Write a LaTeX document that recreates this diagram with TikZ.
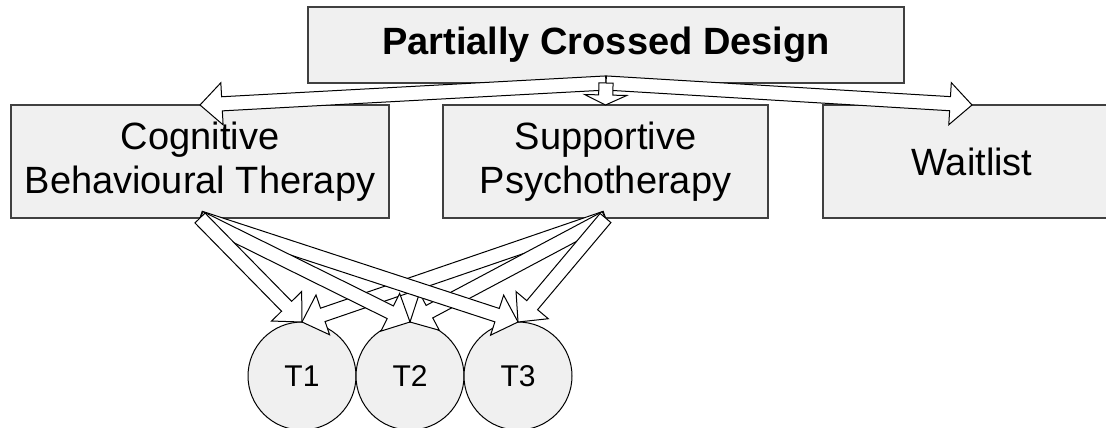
\documentclass[tikz,border=0pt]{standalone}
\usepackage{fontspec}
\setmainfont{Liberation Sans}
\usepackage{xcolor}
\usepackage{tikz}
\usetikzlibrary{positioning,calc}

\definecolor{boxgray}{HTML}{F0F0F0}
\newcommand{\shaftw}{5.3pt}
\newcommand{\headw}{15.8pt}

\begin{document}
\begin{tikzpicture}[
  x=0.75pt, y=-0.75pt,
  every node/.style={font=\fontsize{28.5}{33}\selectfont},
  group/.style ={draw=black!75, line width=1pt, fill=boxgray, inner sep=0pt,
                 outer sep=0pt, minimum height=84.75pt, align=center},
  design/.style={group, font=\fontsize{28.5}{33}\selectfont\bfseries,
                 minimum width=447pt, minimum height=57pt},
  tpoint/.style={circle, draw=black, line width=0.75pt, fill=boxgray,
                 inner sep=0pt, outer sep=0pt, minimum size=81pt,
                 font=\fontsize{22.5}{26}\selectfont},
  hollow/.style={draw=black, fill=white, line width=0.75pt, line join=miter,
    to path={($(\tikztostart)!\shaftw!90:(\tikztotarget)$)
      -- ($(\tikztotarget)!#1!(\tikztostart)!\shaftw!90:(\tikztotarget)$)
      -- ($(\tikztotarget)!#1!(\tikztostart)!\headw!90:(\tikztotarget)$)
      -- (\tikztotarget)
      -- ($(\tikztotarget)!#1!(\tikztostart)!\headw!-90:(\tikztotarget)$)
      -- ($(\tikztotarget)!#1!(\tikztostart)!\shaftw!-90:(\tikztotarget)$)
      -- ($(\tikztostart)!\shaftw!-90:(\tikztotarget)$) -- cycle}},
  hollow/.default=16.5pt
]
\useasboundingbox (0,0) rectangle (1106,428);

%% --- Design and arms -----------------------------------------
\node[design] (pcd) at (606,45) {Partially Crossed Design};
\node[group, minimum width=283.5pt] (cbt) at (200,161.5)
     {Cognitive\\Behavioural Therapy};
\node[group, minimum width=243.75pt, right=40.5pt of cbt] (supp)
     {Supportive\\Psychotherapy};
\node[group, minimum width=223.5pt, right=41.25pt of supp] (wait)
     {Waitlist};

%% --- Therapists ----------------------------------------------
\node[tpoint] (t1) at (302,376) {T1};
\node[tpoint, right=0pt of t1] (t2) {T2};
\node[tpoint, right=0pt of t2] (t3) {T3};

%% --- Block arrows --------------------------------------------
% design -> arms
\draw[hollow] (pcd.south) to (cbt.north);
\draw[hollow] (pcd.south) to (wait.north);
\draw[hollow=7.5pt] (pcd.south) to (supp.north);
% arms -> therapists (crossed)
\foreach \tgt in {t1,t2,t3}
  \draw[hollow] (supp.south) to (\tgt.north);
\foreach \tgt in {t3,t2,t1}
  \draw[hollow] (cbt.south) to (\tgt.north);

\end{tikzpicture}
\end{document}
